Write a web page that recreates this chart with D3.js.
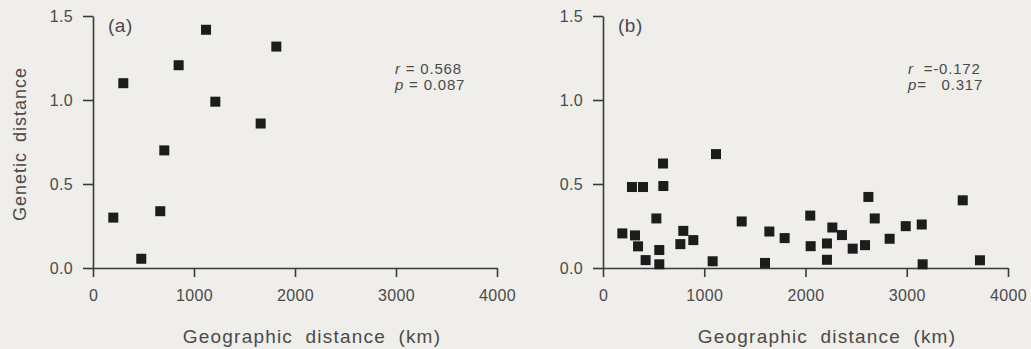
<!DOCTYPE html>
<html>
<head>
<meta charset="utf-8">
<script src="https://cdn.jsdelivr.net/npm/d3@7"></script>
<style>
  html, body { margin: 0; padding: 0; background: #efeeea; }
  svg { display: block; }
  text { font-family: "Liberation Sans", Arial, sans-serif; fill: #4a4a4a; }
</style>
</head>
<body>
<svg id="chart" width="1031" height="349"></svg>
<script>
// ---- Data ----
const panelLabels = ["(a)", "(b)"];
const xTickValues = [0, 1000, 2000, 3000, 4000];
const yTickValues = [0, 0.5, 1.0, 1.5];
const xTitle = "Geographic distance (km)";
const yTitle = "Genetic distance";

// Panel (a)
const geoA = [201, 300, 478, 666, 706, 848, 1119, 1211, 1660, 1815];
const genA = [0.30, 1.10, 0.055, 0.338, 0.70, 1.207, 1.418, 0.99, 0.86, 1.318];
const statsA = ["0.568", "0.087"];

// Panel (b)
const geoB = [191, 286, 316, 346, 395, 421, 527, 556, 556, 593, 596, 764, 793, 892,
              1083, 1116, 1370, 1600, 1643, 1794, 2047, 2051, 2212, 2212, 2265, 2360,
              2466, 2588, 2621, 2684, 2831, 2990, 3148, 3157, 3553, 3723];
const genB = [0.206, 0.482, 0.194, 0.129, 0.482, 0.047, 0.295, 0.107, 0.022, 0.622,
              0.488, 0.142, 0.221, 0.166, 0.040, 0.678, 0.277, 0.030, 0.217, 0.178,
              0.312, 0.130, 0.146, 0.049, 0.241, 0.196, 0.115, 0.136, 0.423, 0.295,
              0.174, 0.249, 0.259, 0.022, 0.403, 0.046];
const statsB = ["-0.172", "0.317"];

// ---- Drawing ----
(function () {
const svg = d3.select("#chart");
const plotTop = 16, plotBottom = 268;
const panels = [
  { left: 93, right: 497, geo: geoA, gen: genA, stats: statsA, label: panelLabels[0], statX: 395, titleX: 312, rEq: " = ", pEq: " = " },
  { left: 603, right: 1008, geo: geoB, gen: genB, stats: statsB, label: panelLabels[1], statX: 908, titleX: 827, rEq: "  =", pEq: "=   " }
];

const axisColor = "#3a3a3a";
const markerSize = 10;

panels.forEach((p, pi) => {
  const x = d3.scaleLinear().domain([0, 4000]).range([p.left, p.right]);
  const y = d3.scaleLinear().domain([0, 1.5]).range([plotBottom, plotTop]);
  const g = svg.append("g");

  const xa = g.append("g")
    .attr("transform", `translate(0,${plotBottom})`)
    .call(d3.axisBottom(x).tickValues(xTickValues).tickFormat(d3.format("d"))
      .tickSize(9).tickSizeOuter(0).tickPadding(13));
  const ya = g.append("g")
    .attr("transform", `translate(${p.left},0)`)
    .call(d3.axisLeft(y).tickValues(yTickValues).tickFormat(d3.format(".1f"))
      .tickSize(10).tickSizeOuter(0).tickPadding(10));

  [xa, ya].forEach(a => {
    a.select(".domain").attr("stroke", axisColor).attr("stroke-width", 1.6);
    a.selectAll(".tick line").attr("stroke", axisColor).attr("stroke-width", 1.6);
    a.selectAll(".tick text").attr("fill", "#4f4f4f")
      .style("font-family", '"Liberation Sans", Arial, sans-serif')
      .style("font-size", "16px")
      .style("letter-spacing", "0.3px");
  });
  ya.selectAll(".tick text").attr("dy", "0.36em");

  g.selectAll("rect.pt")
    .data(p.geo.map((v, i) => [v, p.gen[i]]))
    .join("rect")
    .attr("class", "pt")
    .attr("x", d => x(d[0]) - markerSize / 2)
    .attr("y", d => y(d[1]) - markerSize / 2)
    .attr("width", markerSize)
    .attr("height", markerSize)
    .attr("fill", "#1c1c1c");

  g.append("text")
    .attr("x", p.left + 15)
    .attr("y", 32)
    .style("font-size", "19px")
    .style("letter-spacing", "0.5px")
    .text(p.label);

  const st = g.append("text").attr("x", p.statX).attr("y", 74)
    .attr("xml:space", "preserve").style("font-size", "15px").style("letter-spacing", "0.8px");
  st.append("tspan").style("font-style", "italic").text("r");
  st.append("tspan").text(p.rEq + p.stats[0]);
  const sp = g.append("text").attr("x", p.statX).attr("y", 90)
    .attr("xml:space", "preserve").style("font-size", "15px").style("letter-spacing", "0.8px");
  sp.append("tspan").style("font-style", "italic").text("p");
  sp.append("tspan").text(p.pEq + p.stats[1]);

  g.append("text")
    .attr("x", p.titleX)
    .attr("y", 343)
    .attr("text-anchor", "middle")
    .style("font-size", "19px")
    .style("letter-spacing", "1.2px")
    .style("word-spacing", "6px")
    .text(xTitle);

  if (pi === 0) {
    g.append("text")
      .attr("transform", `translate(26,${(plotTop + plotBottom) / 2 + 2}) rotate(-90)`)
      .attr("text-anchor", "middle")
      .style("font-size", "18px")
      .style("letter-spacing", "1px")
      .style("word-spacing", "4px")
      .text(yTitle);
  }
});
})();
</script>
</body>
</html>
